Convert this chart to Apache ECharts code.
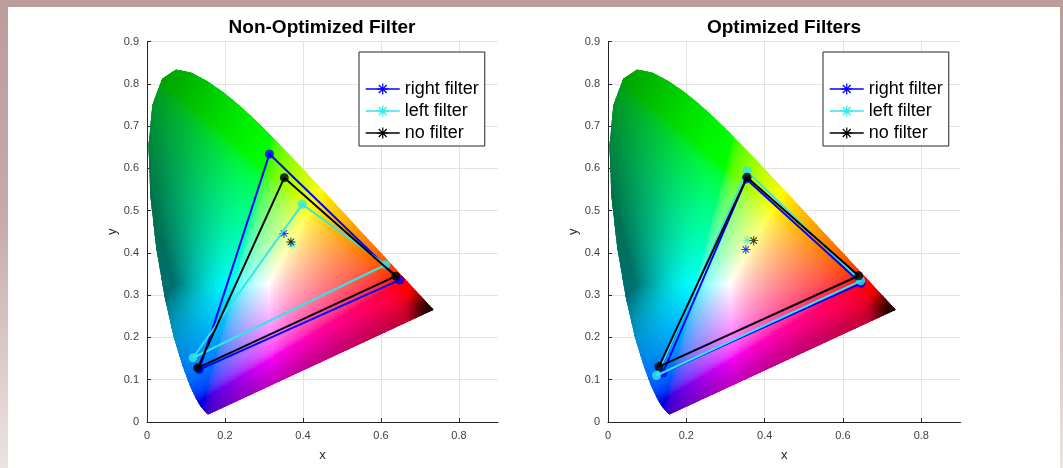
<!DOCTYPE html>
<html>
<head>
<meta charset="utf-8">
<script src="https://cdn.jsdelivr.net/npm/echarts@6/dist/echarts.min.js"></script>
<style>
  html, body { margin:0; padding:0; width:1063px; height:468px; overflow:hidden;
    background: linear-gradient(180deg, #bd9c9c 0%, #c6a9a9 45%, #ece3e3 100%); }
  #paper { position:absolute; left:8px; top:7px; width:1052px; height:461px; background:#fff; }
  #chart { position:absolute; left:0; top:0; width:1063px; height:468px; }
</style>
</head>
<body>
<div id="paper"></div>
<div id="chart"></div>
<script>
// ---- CIE 1931 spectral locus (450–700 nm) ----
const LOCUS_X = [0.1566,0.1510,0.1440,0.1355,0.1241,0.1096,0.0913,0.0687,0.0454,0.0235,0.0082,0.0039,0.0139,0.0389,0.0743,0.1142,0.1547,0.1929,0.2296,0.2658,0.3016,0.3373,0.3731,0.4087,0.4441,0.4788,0.5125,0.5448,0.5752,0.6029,0.6270,0.6482,0.6658,0.6915,0.7079,0.7190,0.7260,0.7300,0.7334,0.7347];
const LOCUS_Y = [0.0177,0.0227,0.0297,0.0399,0.0578,0.0868,0.1327,0.2007,0.2950,0.4127,0.5384,0.6548,0.7502,0.8120,0.8338,0.8262,0.8059,0.7816,0.7543,0.7243,0.6923,0.6589,0.6245,0.5896,0.5547,0.5202,0.4866,0.4544,0.4242,0.3965,0.3725,0.3514,0.3340,0.3083,0.2920,0.2809,0.2740,0.2700,0.2666,0.2653];

// ---- titles / legend names ----
const TITLES = ['Non-Optimized Filter', 'Optimized Filters'];
const SERIES_NAMES = ['right filter', 'left filter', 'no filter'];
const SERIES_COLORS = ['#0000ff', '#33e6e6', '#000000'];

// ---- tick labels ----
const X_TICKS = [0, 0.2, 0.4, 0.6, 0.8];
const Y_TICKS = [0, 0.1, 0.2, 0.3, 0.4, 0.5, 0.6, 0.7, 0.8, 0.9];

// ---- Non-Optimized chart: triangle vertices (G, R, B) and white points ----
const NONOPT_RIGHT = [[0.314,0.634],[0.648,0.336],[0.134,0.124]];
const NONOPT_LEFT  = [[0.398,0.515],[0.612,0.372],[0.118,0.152]];
const NONOPT_NONE  = [[0.352,0.578],[0.638,0.345],[0.130,0.128]];
const NONOPT_RIGHT_WHITE = [0.351,0.446];
const NONOPT_LEFT_WHITE  = [0.372,0.420];
const NONOPT_NONE_WHITE  = [0.369,0.426];

// ---- Optimized chart ----
const OPT_RIGHT = [[0.353,0.575],[0.646,0.328],[0.140,0.116]];
const OPT_LEFT  = [[0.354,0.594],[0.645,0.334],[0.124,0.110]];
const OPT_NONE  = [[0.355,0.579],[0.640,0.346],[0.130,0.131]];
const OPT_RIGHT_WHITE = [0.352,0.408];
const OPT_LEFT_WHITE  = [0.356,0.430];
const OPT_NONE_WHITE  = [0.372,0.429];

const CHARTS = [
  { tris:[NONOPT_RIGHT, NONOPT_LEFT, NONOPT_NONE], whites:[NONOPT_RIGHT_WHITE, NONOPT_LEFT_WHITE, NONOPT_NONE_WHITE] },
  { tris:[OPT_RIGHT, OPT_LEFT, OPT_NONE], whites:[OPT_RIGHT_WHITE, OPT_LEFT_WHITE, OPT_NONE_WHITE] }
];

const FONT = "'Liberation Sans', Arial, Helvetica, sans-serif";

// point-in-locus test
function inside(px, py) {
  let c = false; const n = LOCUS_X.length;
  for (let i = 0, j = n - 1; i < n; j = i++) {
    const xi = LOCUS_X[i], yi = LOCUS_Y[i], xj = LOCUS_X[j], yj = LOCUS_Y[j];
    if (((yi > py) !== (yj > py)) && (px < (xj - xi) * (py - yi) / (yj - yi) + xi)) c = !c;
  }
  return c;
}
function smooth(e0, e1, v) { const t = Math.max(0, Math.min(1, (v - e0) / (e1 - e0))); return t * t * (3 - 2 * t); }
// chromaticity -> display colour
function enc(v) { v = Math.max(0, Math.min(1, v)); return v <= 0.0031308 ? 12.92 * v : 1.055 * Math.pow(v, 1 / 2.4) - 0.055; }
const PX0 = LOCUS_X[0], PY0 = LOCUS_Y[0], PX1 = LOCUS_X[LOCUS_X.length - 1], PY1 = LOCUS_Y[LOCUS_Y.length - 1];
function cieColor(x, y) {
  const X = x / y, Y = 1, Z = (1 - x - y) / y;
  let r = 3.2406 * X - 1.5372 * Y - 0.4986 * Z;
  let g = -0.9689 * X + 1.8758 * Y + 0.0415 * Z;
  let b = 0.0557 * X - 0.2040 * Y + 1.0570 * Z;
  const m = Math.max(r, g, b); r /= m; g /= m; b /= m;
  const neg = Math.max(0, -r) + Math.max(0, -g) + Math.max(0, -b);
  let br = 1 - 0.56 * Math.pow(Math.min(1, neg), 2);
  // darker toward the 700 nm corner
  const d = Math.hypot(x - PX1, y - PY1);
  br *= 0.12 + 0.88 * smooth(0, 0.085, d);
  // slightly darker along the purple line
  const lx = PX1 - PX0, ly = PY1 - PY0, ll = Math.hypot(lx, ly);
  const dp = ((x - PX0) * ly - (y - PY0) * lx) / ll;
  br *= 0.78 + 0.22 * smooth(0, 0.08, Math.abs(dp));
  return 'rgb(' + Math.round(enc(r) * br * 255) + ',' + Math.round(enc(g) * br * 255) + ',' + Math.round(enc(b) * br * 255) + ')';
}
// cells covering the locus (background fill, clipped to the locus outline)
const STEP = 0.004;
const CELLS = [];
for (let x = 0; x < 0.745; x += STEP) {
  for (let y = 0; y < 0.845; y += STEP) {
    let hit = false;
    for (let dx = -1; dx <= 1 && !hit; dx++) for (let dy = -1; dy <= 1 && !hit; dy++) {
      if (inside(x + STEP / 2 + dx * STEP, y + STEP / 2 + dy * STEP)) hit = true;
    }
    if (hit) CELLS.push([x, y]);
  }
}

function asterPath(w) {
  let s = '';
  [0, 45, 90, 135].forEach(a => {
    const r = a * Math.PI / 180, c = Math.cos(r), sn = Math.sin(r);
    const pts = [[-10, -w], [10, -w], [10, w], [-10, w]].map(([u, v]) => [u * c - v * sn, u * sn + v * c]);
    s += 'M' + pts.map(p => p[0].toFixed(3) + ',' + p[1].toFixed(3)).join('L') + 'Z';
  });
  return 'path://' + s;
}
const ASTER = asterPath(1.1);

const GRIDS = [
  { left: 147, top: 41.5, width: 351, height: 380.5 },
  { left: 608, top: 41.5, width: 352.5, height: 380.5 }
];
const LEGEND_POS = [{ left: 359, top: 52 }, { left: 823, top: 52 }];
const TITLE_X = [322, 784];

const grid = [], xAxis = [], yAxis = [], series = [], legend = [], title = [];
const splitColors = X_TICKS.map(() => '#e3e3e3').concat(['rgba(0,0,0,0)']);

CHARTS.forEach((ch, ci) => {
  grid.push(GRIDS[ci]);
  title.push({ text: TITLES[ci], left: TITLE_X[ci], top: 18, textAlign: 'center', padding: 0,
    textStyle: { fontFamily: FONT, fontSize: 19, fontWeight: 'bold', color: '#000' } });
  xAxis.push({ type: 'value', gridIndex: ci, min: 0, max: 0.9, interval: 0.2,
    name: 'x', nameLocation: 'middle', nameGap: 27,
    nameTextStyle: { fontFamily: FONT, fontSize: 13, color: '#262626' },
    axisLine: { show: true, onZero: false, lineStyle: { color: '#262626', width: 1 } },
    axisTick: { show: true, inside: true, length: 4, lineStyle: { color: '#262626' } },
    axisLabel: { fontFamily: FONT, fontSize: 11, color: '#404040', margin: 8, showMaxLabel: false,
      formatter: v => (X_TICKS.indexOf(Math.round(v * 10) / 10) >= 0 ? String(Math.round(v * 10) / 10) : '') },
    splitLine: { show: true, lineStyle: { color: splitColors, width: 1 } } });
  yAxis.push({ type: 'value', gridIndex: ci, min: 0, max: 0.9, interval: 0.1,
    name: 'y', nameLocation: 'middle', nameGap: 28,
    nameTextStyle: { fontFamily: FONT, fontSize: 13, color: '#262626' },
    axisLine: { show: true, onZero: false, lineStyle: { color: '#262626', width: 1 } },
    axisTick: { show: true, inside: true, length: 4, lineStyle: { color: '#262626' } },
    axisLabel: { fontFamily: FONT, fontSize: 11, color: '#404040', margin: 8,
      formatter: v => { const r = Math.round(v * 10) / 10; return Y_TICKS.indexOf(r) >= 0 ? String(r) : ''; } },
    splitLine: { show: true, lineStyle: { color: '#e3e3e3', width: 1 } } });
  legend.push({ orient: 'vertical', left: LEGEND_POS[ci].left, top: LEGEND_POS[ci].top,
    itemWidth: 34, itemHeight: 14, itemGap: 2, padding: [27, 6, 3, 6],
    backgroundColor: '#fff', borderColor: '#262626', borderWidth: 1, borderRadius: 0,
    lineStyle: { width: 1.5 },
    textStyle: { fontFamily: FONT, fontSize: 18, color: '#000', lineHeight: 20 },
    selectedMode: false, data: SERIES_NAMES.slice() });

  series.push({ type: 'custom', xAxisIndex: ci, yAxisIndex: ci, silent: true,
    data: [[0, 0]], z: 1,
    renderItem: (params, api) => {
      const children = CELLS.map(([x, y]) => {
        const p0 = api.coord([x, y + STEP]), p1 = api.coord([x + STEP, y]);
        const x0 = Math.floor(p0[0]), y0 = Math.floor(p0[1]);
        return { type: 'rect', shape: { x: x0, y: y0, width: Math.ceil(p1[0]) - x0 + 0.5, height: Math.ceil(p1[1]) - y0 + 0.5 },
          style: { fill: cieColor(x + STEP / 2, y + STEP / 2) } };
      });
      const pts = LOCUS_X.map((lx, i) => api.coord([lx, LOCUS_Y[i]]));
      return { type: 'group', children, clipPath: { type: 'polygon', shape: { points: pts } } };
    } });

  ch.tris.forEach((tri, fi) => {
    const col = SERIES_COLORS[fi];
    series.push({ type: 'line', name: SERIES_NAMES[fi], xAxisIndex: ci, yAxisIndex: ci,
      data: tri.concat([tri[0]]), symbol: ASTER, symbolSize: 10, showSymbol: false,
      lineStyle: { color: col, width: 2 }, itemStyle: { color: col }, silent: true, z: 3 + fi });
    series.push({ type: 'scatter', name: SERIES_NAMES[fi], xAxisIndex: ci, yAxisIndex: ci,
      data: tri, symbol: 'circle', symbolSize: 9, itemStyle: { color: col }, silent: true, z: 3 + fi });
    series.push({ type: 'scatter', name: SERIES_NAMES[fi], xAxisIndex: ci, yAxisIndex: ci,
      data: [ch.whites[fi]], symbol: ASTER, symbolSize: 9, itemStyle: { color: col }, silent: true, z: 3 + fi });
  });
});

const chart = echarts.init(document.getElementById('chart'), null, { renderer: 'canvas' });
chart.setOption({ animation: false, backgroundColor: 'transparent', title, legend, grid, xAxis, yAxis, series });
</script>
</body>
</html>
